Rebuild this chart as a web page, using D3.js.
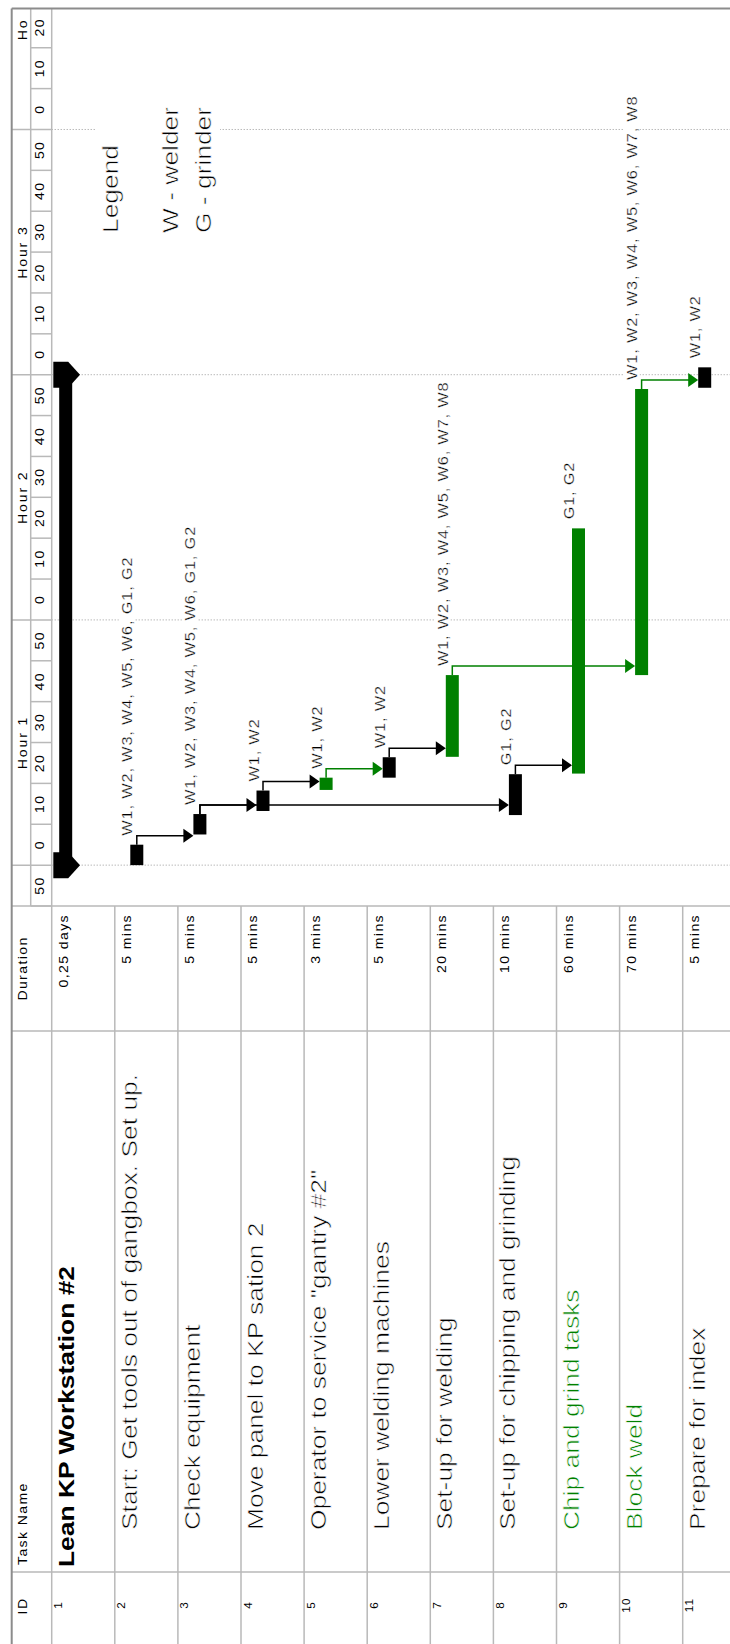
<!DOCTYPE html>
<html>
<head>
<meta charset="utf-8">
<script src="https://cdn.jsdelivr.net/npm/d3@7"></script>
<style>
  body { margin: 0; background: #fff; }
  svg { display: block; }
  text { font-family: "Liberation Sans", Arial, sans-serif; }
</style>
</head>
<body>
<div id="visArea"></div>
<script>
// Task table
var taskIds = [1, 2, 3, 4, 5, 6, 7, 8, 9, 10, 11]
var taskNames = [
  "Lean KP Workstation #2",
  "Start: Get tools out of gangbox. Set up.",
  "Check equipment",
  "Move panel to KP sation 2",
  "Operator to service \"gantry #2\"",
  "Lower welding machines",
  "Set-up for welding",
  "Set-up for chipping and grinding",
  "Chip and grind tasks",
  "Block weld",
  "Prepare for index"
]
var durations = ["0,25 days", "5 mins", "5 mins", "5 mins", "3 mins", "5 mins", "20 mins", "10 mins", "60 mins", "70 mins", "5 mins"]
// minutes after project start
var startMin = [0, 0, 7.5, 13.25, 18.4, 21.4, 26.5, 12.25, 22.4, 46.5, 116.8]
var finishMin = [120, 5, 12.5, 18.25, 21.4, 26.4, 46.5, 22.25, 82.4, 116.5, 121.8]
var barKind = ["summary", "task", "task", "task", "critical", "task", "critical", "task", "critical", "critical", "task"]
var greenNames = [9, 10]
var resources = [
  "",
  "W1, W2, W3, W4, W5, W6, G1, G2",
  "W1, W2, W3, W4, W5, W6, G1, G2",
  "W1, W2",
  "W1, W2",
  "W1, W2",
  "W1, W2, W3, W4, W5, W6, W7, W8",
  "G1, G2",
  "G1, G2",
  "W1, W2, W3, W4, W5, W6, W7, W8",
  "W1, W2"
]
// predecessor -> successor
var links = [[2, 3], [3, 4], [3, 8], [4, 5], [5, 6], [6, 7], [8, 9], [7, 10], [10, 11]]

// Timescale
var hourStarts = [0, 60, 120, 180]
var hourLabels = ["Hour 1", "Hour 2", "Hour 3", "Ho"]
var minuteLabels = ["50", "0", "10", "20", "30", "40", "50", "0", "10", "20", "30", "40",
  "50", "0", "10", "20", "30", "40", "50", "0", "10", "20"]
var legendLines = ["Legend", "", "W - welder", "G - grinder"]

// Display constants (drawn landscape, then turned a quarter)
var pageW = 730
var pageH = 1644
var frameTop = 11.7
var tierSplit = 30.7
var headerBottom = 51.7
var rowH = 63.1
var colName = 72
var colDur = 613
var chartLeft = 738
var chartRight = 1635.5
var green = "#008000"
var gridColor = "#b9b9b9"
var stretch = 1.17

var xScale = d3.scaleLinear()
  .domain([-10, 209.6])
  .range([chartLeft, chartRight])

function rowTop(id) { return headerBottom + (id - 1) * rowH }

var svg = d3.select('#visArea')
  .append("svg")
  .attr("width", pageW)
  .attr("height", pageH)

svg.append("rect").attr("width", pageW).attr("height", pageH).attr("fill", "#fff")

var g = svg.append("g")
  .attr("transform", "translate(0," + pageH + ") rotate(-90)")

function addText(parent, x, y, str, size, opts) {
  opts = opts || {}
  var t = parent.append("text")
    .attr("transform", "translate(" + x + "," + y + ") scale(" + (opts.sx || stretch) + ",1)")
    .attr("text-anchor", opts.anchor || "start")
    .style("font-size", size + "px")
    .style("font-weight", opts.bold ? "bold" : "normal")
    .style("letter-spacing", (opts.ls || 0) + "px")
    .attr("fill", opts.color || "#000")
    .text(str)
  // the original glyphs are thin, so shave them a little
  if (opts.thin) t.attr("stroke", "#fff").attr("stroke-width", opts.thin)
  return t
}

// hour gridlines in the chart
g.append("g").selectAll("line")
  .data(hourStarts)
  .enter().append("line")
  .attr("x1", (d) => xScale(d)).attr("x2", (d) => xScale(d))
  .attr("y1", headerBottom).attr("y2", pageW + 10)
  .attr("stroke", "#9a9a9a")
  .attr("stroke-dasharray", "1,2")

// legend box
var legend = g.append("g")
legend.append("rect")
  .attr("x", 1400).attr("y", 95)
  .attr("width", 145).attr("height", 125)
  .attr("fill", "#fff")
var legendBase = [118, 148, 178, 211]
legendLines.forEach(function(t, i) {
  if (t) addText(legend, 1411, legendBase[i], t, 22, {sx: 1.2, thin: 0.6})
})

// resource labels
var labelG = g.append("g")
taskIds.forEach(function(id, i) {
  if (!resources[i]) return
  var lx = xScale(finishMin[i]) + 9
  var ly = rowTop(id) + 17.5
  var t = addText(labelG, lx, ly, resources[i], 14, {ls: 0.7, thin: 0.3})
  var w = t.node().getComputedTextLength() * stretch
  labelG.insert("rect", "text")
    .attr("x", lx - 2).attr("y", rowTop(id) + 4)
    .attr("width", w + 4).attr("height", 16)
    .attr("fill", "#fff")
})

// bars
var barG = g.append("g")
taskIds.forEach(function(id, i) {
  var top = rowTop(id)
  var x0 = xScale(startMin[i])
  var x1 = xScale(finishMin[i])
  if (barKind[i] === "summary") {
    barG.append("rect")
      .attr("x", x0).attr("y", top + 7.5)
      .attr("width", x1 - x0).attr("height", 13)
      .attr("fill", "#000")
    ;[x0, x1].forEach(function(cx) {
      var pts = [[cx - 13, top + 1.6], [cx + 13, top + 1.6], [cx + 13, top + 16.5],
        [cx, top + 28.3], [cx - 13, top + 16.5]]
      barG.append("path")
        .attr("d", "M" + pts.join("L") + "Z")
        .attr("fill", "#000")
    })
  } else {
    barG.append("rect")
      .attr("x", x0).attr("y", top + 15.5)
      .attr("width", x1 - x0).attr("height", 13)
      .attr("fill", barKind[i] === "critical" ? green : "#000")
  }
})

// links (finish -> start)
var linkG = g.append("g")
links.forEach(function(l) {
  var p = l[0] - 1
  var col = barKind[p] === "critical" ? green : "#000"
  var xf = xScale(finishMin[p])
  var xa = xf + 9
  var yp = rowTop(l[0]) + 22
  var ys = rowTop(l[1]) + 15.5
  linkG.append("path")
    .attr("d", "M" + xf + "," + yp + "H" + xa + "V" + (ys - 8))
    .attr("fill", "none")
    .attr("stroke", col)
    .attr("stroke-width", 1.5)
  linkG.append("path")
    .attr("d", "M" + (xa - 7) + "," + (ys - 10) + "L" + (xa + 7) + "," + (ys - 10) + "L" + xa + "," + ys + "Z")
    .attr("fill", col)
})

// grid of table and timescale
var grid = g.append("g").attr("stroke", gridColor).attr("stroke-width", 1.5)
function hline(y, xa, xb) { grid.append("line").attr("x1", xa).attr("x2", xb).attr("y1", y).attr("y2", y) }
function vline(x, ya, yb) { grid.append("line").attr("x1", x).attr("x2", x).attr("y1", ya).attr("y2", yb) }

taskIds.forEach(function(id) { if (id > 1) hline(rowTop(id), 0, chartLeft) })
hline(headerBottom, 0, chartRight)
hline(tierSplit, chartLeft, chartRight)
vline(colName, frameTop, pageW + 10)
vline(colDur, frameTop, pageW + 10)
vline(chartLeft, frameTop, pageW + 10)

var minuteStarts = d3.range(-10, 210, 10)
minuteStarts.forEach(function(t) {
  if (hourStarts.indexOf(t) >= 0) vline(xScale(t), frameTop, headerBottom)
  else vline(xScale(t), tierSplit, headerBottom)
})

// outer frame
g.append("line")
  .attr("x1", 0).attr("x2", chartRight).attr("y1", frameTop).attr("y2", frameTop)
  .attr("stroke", "#8c8c8c").attr("stroke-width", 2)
g.append("line")
  .attr("x1", chartRight).attr("x2", chartRight).attr("y1", frameTop).attr("y2", pageW + 10)
  .attr("stroke", "#8c8c8c").attr("stroke-width", 2)

// timescale labels
var scaleG = g.append("g")
minuteStarts.forEach(function(t, i) {
  addText(scaleG, xScale(t + 5), 43.5, minuteLabels[i], 12, {anchor: "middle", ls: 1.2})
})
hourStarts.forEach(function(h, i) {
  var t = addText(scaleG, 0, 26.5, hourLabels[i], 12, {anchor: "middle", ls: 1.6})
  var w = t.node().getComputedTextLength() * stretch
  var cx = Math.min(xScale(h + 30), chartRight - 10 - w / 2)
  t.attr("transform", "translate(" + cx + ",26.5) scale(" + stretch + ",1)")
})

// table header
var tableG = g.append("g")
addText(tableG, 38, 26.5, "ID", 12, {anchor: "middle", ls: 1.2})
addText(tableG, colName + 7, 26.5, "Task Name", 12, {ls: 1.2})
addText(tableG, (colDur + chartLeft) / 2, 26.5, "Duration", 12, {anchor: "middle", ls: 1.2})

// table rows
taskIds.forEach(function(id, i) {
  var top = rowTop(id)
  addText(tableG, 39, top + 10.5, id, 10, {anchor: "middle", ls: 1})
  var isSummary = barKind[i] === "summary"
  addText(tableG, isSummary ? colName + 5 : colName + 42, top + 22, taskNames[i], 22, {
    sx: 1.2,
    bold: isSummary,
    thin: isSummary ? 0 : 0.6,
    color: greenNames.indexOf(id) >= 0 ? green : "#000"
  })
  addText(tableG, chartLeft - 8, top + 16, durations[i], 12, {anchor: "end", ls: 1.2})
})
</script>
</body>
</html>
